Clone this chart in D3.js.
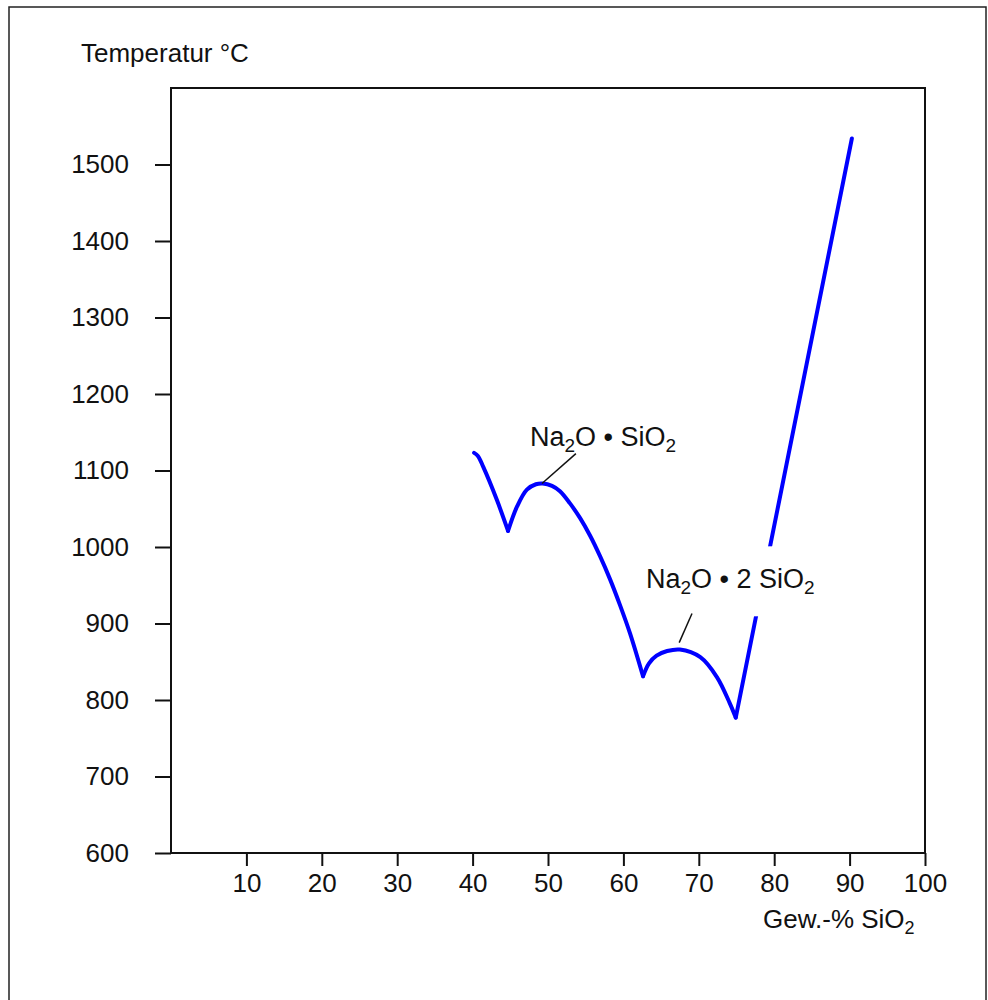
<!DOCTYPE html>
<html>
<head>
<meta charset="utf-8">
<script src="https://cdn.jsdelivr.net/npm/d3@7"></script>
<style>
  body { margin: 0; background: #fff; }
  svg { display: block; }
  text { font-family: "Liberation Sans", Arial, sans-serif; fill: #111; }
</style>
</head>
<body>
<svg id="chart" width="988" height="1000"></svg>
<script>
// tick values
const xTicks = [10, 20, 30, 40, 50, 60, 70, 80, 90, 100];
const yTicks = [600, 700, 800, 900, 1000, 1100, 1200, 1300, 1400, 1500];

// liquidus branches [Gew.-% SiO2, °C], one per cusp-to-cusp piece
const branchA = [[40.2, 1123], [40.7, 1119], [41.4, 1105], [43.2, 1062], [44.7, 1021]];
const branchB = [[44.7, 1021], [45.9, 1053], [47.2, 1075], [48.4, 1082], [49.3, 1083], [50.53, 1080],
                 [51.59, 1073], [52.92, 1057], [54.24, 1038], [55.57, 1015], [56.9, 988], [58.22, 958],
                 [59.55, 924], [60.88, 887], [62.6, 831]];
const branchC = [[62.6, 831], [63.4, 848], [64.4, 858], [65.8, 864], [67.5, 866], [70.2, 856], [72.4, 830],
                 [74.1, 796], [74.9, 777]];
const branchD = [[74.9, 777], [90.3, 1534]];
const branches = [branchA, branchB, branchC, branchD];

// compound labels (text with _2 for subscript), anchor and leader line
const compoundNames = ["Na_2O \u2022 SiO_2", "Na_2O \u2022 2 SiO_2"];
const labelAnchors = [[47.6, 1132], [63.0, 946]];
const leaders = [[[53.7, 1122], [49.2, 1083]], [[69.1, 913], [67.4, 875]]];

const margin = { top: 88, right: 63, bottom: 147, left: 171 },
    width = 988 - margin.left - margin.right,
    height = 1000 - margin.top - margin.bottom;

const svg = d3.select("#chart");

// outer frame
svg.append("rect")
    .attr("x", 9).attr("y", 7)
    .attr("width", 977).attr("height", 1010)
    .attr("fill", "none").attr("stroke", "#222").attr("stroke-width", 1.5);

const g = svg.append("g")
    .attr("transform", `translate(${margin.left},${margin.top})`);

const x = d3.scaleLinear().domain([0, 100]).range([0, width]);
const y = d3.scaleLinear().domain([600, 1600]).range([height, 0]);

// axes (ticks only, box drawn separately)
const xAxis = g.append("g")
    .attr("transform", `translate(0,${height})`)
    .call(d3.axisBottom(x).tickValues(xTicks).tickSize(13).tickSizeOuter(0).tickPadding(8));
const yAxis = g.append("g")
    .call(d3.axisLeft(y).tickValues(yTicks).tickFormat(d3.format("d"))
        .tickSize(16).tickSizeOuter(0).tickPadding(26));

[xAxis, yAxis].forEach(ax => {
    ax.select(".domain").remove();
    ax.selectAll("line").attr("stroke", "#111").attr("stroke-width", 2);
    ax.selectAll("text")
        .style("font-size", "26px")
        .style("font-family", '"Liberation Sans", Arial, sans-serif')
        .attr("fill", "#111");
});

// plot box
g.append("rect")
    .attr("width", width).attr("height", height)
    .attr("fill", "none").attr("stroke", "#111").attr("stroke-width", 2);

// curve
const line = d3.line()
    .x(d => x(d[0]))
    .y(d => y(d[1]))
    .curve(d3.curveCatmullRom.alpha(0.5));

g.selectAll(".branch")
    .data(branches)
    .enter()
    .append("path")
    .attr("class", "branch")
    .attr("d", line)
    .attr("fill", "none")
    .attr("stroke", "#0000ff")
    .attr("stroke-width", 4)
    .attr("stroke-linecap", "round")
    .attr("stroke-linejoin", "round");

// write a string with _2 style subscripts into a text element
function chemText(sel, str, size, subSize) {
    const parts = str.split(/_(\d)/);
    let lowered = false;
    parts.forEach((p, i) => {
        if (p === "") return;
        const sub = i % 2 === 1;
        const t = sel.append("tspan").text(p);
        if (sub) {
            t.style("font-size", subSize + "px").attr("dy", 6);
            lowered = true;
        } else {
            t.style("font-size", size + "px");
            if (lowered) { t.attr("dy", -6); lowered = false; }
        }
    });
}

// compound labels with white backing
const labelGroup = g.append("g");
compoundNames.forEach((name, i) => {
    const bg = labelGroup.append("rect").attr("fill", "#fff");
    const t = labelGroup.append("text")
        .attr("x", x(labelAnchors[i][0]))
        .attr("y", y(labelAnchors[i][1]));
    chemText(t, name, 27, 19);
    const bb = t.node().getBBox();
    bg.attr("x", bb.x - 3).attr("y", bb.y - 18)
      .attr("width", bb.width + 6).attr("height", bb.height + 36);
});

g.selectAll(".leader")
    .data(leaders)
    .enter()
    .append("line")
    .attr("class", "leader")
    .attr("x1", d => x(d[0][0])).attr("y1", d => y(d[0][1]))
    .attr("x2", d => x(d[1][0])).attr("y2", d => y(d[1][1]))
    .attr("stroke", "#111")
    .attr("stroke-width", 1.5);

// axis titles
svg.append("text")
    .attr("x", 81).attr("y", 62)
    .style("font-size", "26px")
    .text("Temperatur \u00b0C");

chemText(svg.append("text").attr("x", 763).attr("y", 928), "Gew.-% SiO_2", 26, 18);
</script>
</body>
</html>
